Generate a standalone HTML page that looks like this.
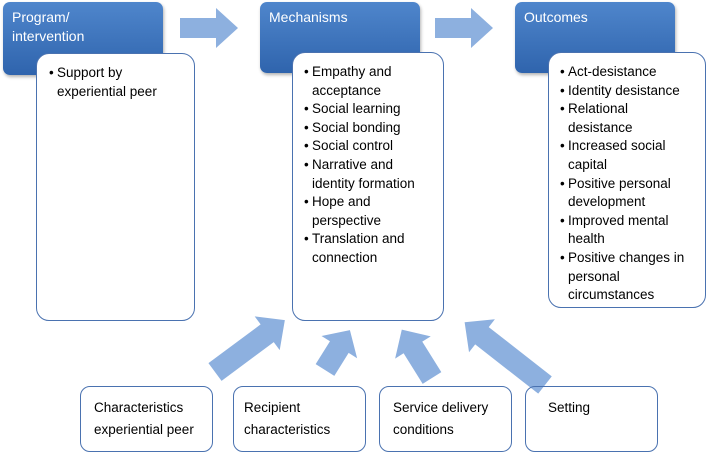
<!DOCTYPE html>
<html><head><meta charset="utf-8"><style>
body{margin:0;width:707px;height:452px;background:#fff;position:relative;overflow:hidden;font-family:"Liberation Sans",sans-serif;}
.h{position:absolute;background:linear-gradient(#4f86cc,#2f64ad);border-radius:7px;color:#fff;font-size:14px;line-height:19px;padding:6px 9px;box-sizing:border-box;box-shadow:1px 2px 3px rgba(0,0,0,.3);}
.w{position:absolute;background:#fff;border:1.3px solid #4a72b0;border-radius:13px;box-sizing:border-box;font-size:13.5px;line-height:18.6px;color:#000;}
.w ul{margin:0;padding:0;list-style:none;}
.w li{padding-left:8px;text-indent:-8px;}
.w li:before{content:"•";display:inline-block;width:8px;text-indent:0;}
.b{position:absolute;border:1.3px solid #4a72b0;border-radius:10px;box-sizing:border-box;font-size:13.5px;line-height:22px;padding:10px 0 0 13px;}
svg{position:absolute;left:0;top:0}
</style></head><body>
<svg width="707" height="452">
<g fill="#8db0df">
<polygon points="180,18 216,18 216,8 238,28 216,48 216,38 180,38"/>
<polygon points="435,18 471,18 471,8 493,28 471,48 471,38 435,38"/>
<g transform="translate(215,372) rotate(-36.6)"><polygon points="0,-11 65,-11 65,-21 87,0 65,21 65,11 0,11"/></g>
<g transform="translate(325,370) rotate(-58)"><polygon points="0,-11 27,-11 27,-21 47,0 27,21 27,11 0,11"/></g>
<g transform="translate(432,378) rotate(-122)"><polygon points="0,-11 36,-11 36,-21 57,0 36,21 36,11 0,11"/></g>
<g transform="translate(545,385) rotate(-142)"><polygon points="0,-11 80,-11 80,-21 102,0 80,21 80,11 0,11"/></g>
</g></svg>
<div class="h" style="left:3px;top:2px;width:160px;height:73px">Program/<br>intervention</div>
<div class="h" style="left:260px;top:2px;width:160px;height:71px">Mechanisms</div>
<div class="h" style="left:515px;top:2px;width:160px;height:71px">Outcomes</div>
<div class="w" style="left:36px;top:53px;width:159px;height:268px;padding:10px 0 0 12px"><ul style="width:110px"><li>Support by experiential peer</li></ul></div>
<div class="w" style="left:292px;top:52px;width:152px;height:269px;padding:10px 0 0 11px"><ul style="width:118px"><li>Empathy and acceptance</li><li>Social learning</li><li>Social bonding</li><li>Social control</li><li>Narrative and identity formation</li><li>Hope and perspective</li><li>Translation and connection</li></ul></div>
<div class="w" style="left:548px;top:52px;width:158px;height:256px;padding:10px 0 0 11px"><ul style="width:132px"><li>Act-desistance</li><li>Identity desistance</li><li>Relational desistance</li><li>Increased social capital</li><li>Positive personal development</li><li>Improved mental health</li><li>Positive changes in personal circumstances</li></ul></div>
<div class="b" style="left:80px;top:386px;width:133px;height:66px">Characteristics<br>experiential peer</div>
<div class="b" style="left:233px;top:386px;width:133px;height:66px;padding-left:10px">Recipient<br>characteristics</div>
<div class="b" style="left:379px;top:386px;width:133px;height:66px">Service delivery<br>conditions</div>
<div class="b" style="left:525px;top:386px;width:133px;height:66px;padding-left:22px">Setting</div>
</body></html>
